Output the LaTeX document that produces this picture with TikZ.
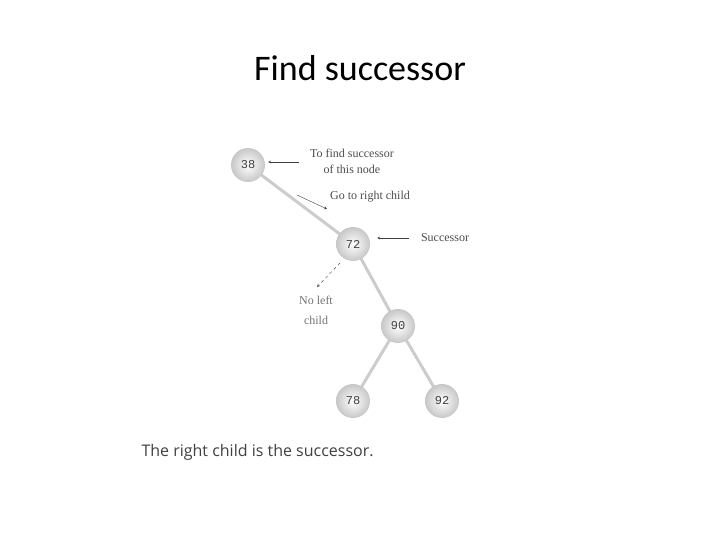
\documentclass[tikz,border=0pt]{standalone}
\usepackage{fontspec}
\setmainfont{Liberation Serif}
\newfontfamily\calfont{Carlito}
\newfontfamily\capfont{Open Sans}
\newfontfamily\numfont{Liberation Mono}
\begin{document}
\begin{tikzpicture}[x=1pt,y=-1pt,
  tn/.style={circle,minimum size=34pt,inner sep=0pt,shading=radial,inner color=white,outer color=black!22,font=\numfont\fontsize{12}{12}\selectfont,text=black!75},
  edge/.style={line width=3pt,black!20},
  lbl/.style={font=\fontsize{12}{16}\selectfont,text=black!70,align=center},
  pt/.style={->,>=stealth,black!75,thin}]
\useasboundingbox (0,0) rectangle (720,540);
\node[font=\calfont\fontsize{36}{40}\selectfont] (title) at (360,68) {Find successor};
\coordinate (a) at (248,165);
\coordinate (b) at (353,244);
\coordinate (c) at (398,326);
\coordinate (d) at (353,401);
\coordinate (e) at (442,401);
\draw[edge] (a) -- (b);
\draw[edge] (b) -- (c);
\draw[edge] (c) -- (d);
\draw[edge] (c) -- (e);
\node[tn] (na) at (a) {38};\node[tn] (nb) at (b) {72};\node[tn] (nc) at (c) {90};\node[tn] (nd) at (d) {78};\node[tn] (ne) at (e) {92};
\node[lbl] (l1) at (352,161) {To find successor\\of this node};
\node[lbl] (l2) at (370,197) {Go to right child};
\node[lbl] (l3) at (445,238) {Successor};
\node[lbl,text=black!55,font=\fontsize{12}{20}\selectfont] (l4) at (316,310) {No left\\child};
\coordinate (s1) at (299,162); \coordinate (t1) at (268,162);
\coordinate (s2) at (297,195); \coordinate (t2) at (327,209);
\coordinate (s3) at (409,238); \coordinate (t3) at (377,238);
\coordinate (s4) at (340,263); \coordinate (t4) at (317,287);
\draw[pt] (s1) -- (t1);
\draw[pt] (s2) -- (t2);
\draw[pt] (s3) -- (t3);
\draw[pt,dashed] (s4) -- (t4);
\node[anchor=west,font=\capfont\fontsize{16}{18}\selectfont,text=black!75] (cap) at (138,452) {The right child is the successor.};
\end{tikzpicture}
\end{document}
